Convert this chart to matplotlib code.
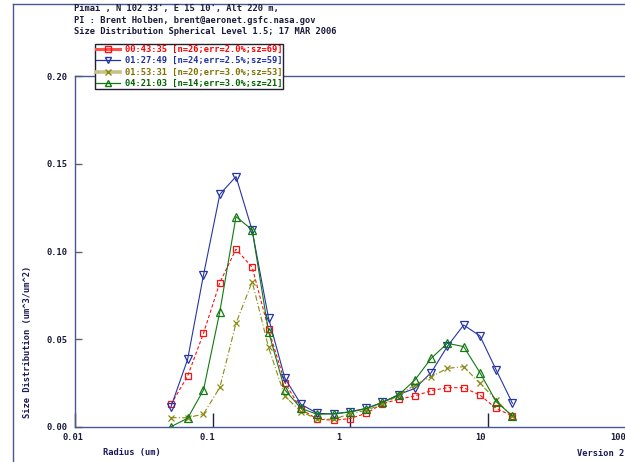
import matplotlib
matplotlib.use("Agg")
import matplotlib.pyplot as plt
from matplotlib.lines import Line2D
from matplotlib.transforms import ScaledTranslation

# ---------------- data ----------------
radius = [0.050, 0.066, 0.086, 0.113, 0.148, 0.194, 0.255, 0.335, 0.439, 0.576, 0.756,
          0.992, 1.302, 1.708, 2.241, 2.940, 3.857, 5.061, 6.641, 8.713, 11.432, 15.000]

red_vals = [0.0129, 0.0291, 0.0534, 0.0823, 0.1013, 0.0910, 0.0557, 0.0253, 0.0101, 0.0045, 0.0038,
            0.0048, 0.0078, 0.0132, 0.0158, 0.0177, 0.0207, 0.0224, 0.0224, 0.0182, 0.0106, 0.0063]
blue_vals = [0.0116, 0.0386, 0.0866, 0.1326, 0.1427, 0.1120, 0.0620, 0.0278, 0.0129, 0.0078, 0.0074,
             0.0087, 0.0106, 0.0140, 0.0185, 0.0220, 0.0310, 0.0460, 0.0581, 0.0519, 0.0325, 0.0135]
olive_vals = [0.0053, 0.0053, 0.0074, 0.0226, 0.0591, 0.0828, 0.0453, 0.0175, 0.0087, 0.0045, 0.0044,
              0.0075, 0.0095, 0.0130, 0.0180, 0.0240, 0.0287, 0.0334, 0.0344, 0.0249, 0.0154, 0.0060]
green_vals = [0.0002, 0.0050, 0.0211, 0.0657, 0.1199, 0.1123, 0.0543, 0.0211, 0.0106, 0.0072, 0.0076,
              0.0085, 0.0105, 0.0140, 0.0182, 0.0268, 0.0391, 0.0477, 0.0458, 0.0310, 0.0144, 0.0063]

labels = ["00:43:35 [n=26;err=2.0%;sz=69]",
          "01:27:49 [n=24;err=2.5%;sz=59]",
          "01:53:31 [n=20;err=3.0%;sz=53]",
          "04:21:03 [n=14;err=3.0%;sz=21]"]

title_lines = ["Pimai , N 102 33', E 15 10', Alt 220 m,",
               "PI : Brent Holben, brent@aeronet.gsfc.nasa.gov",
               "Size Distribution Spherical Level 1.5; 17 MAR 2006"]

xticks = [0.01, 0.1, 1, 10, 100]
xticklabels = ["0.01", "0.1", "1", "10", "100"]
yticks = [0.00, 0.05, 0.10, 0.15, 0.20]

# ---------------- style ----------------
FONT = dict(family="DejaVu Sans Mono", weight="bold")
FS = 6.3
AXC = "#4a5890"

W, H = 625, 462
fig = plt.figure(figsize=(W / 100, H / 100), dpi=100)
ax = fig.add_axes([74.7 / W, 35 / H, (626 - 74.7) / W, 351 / H])
ax.set_xscale("log")
ax.set_xlim(0.01, 100)
ax.set_ylim(0, 0.2)

series = [
    (red_vals, "#ff1010", (0, (3, 2)), "s", 5.0),
    (blue_vals, "#2535a5", "-", "v", 5.2),
    (olive_vals, "#8a8a10", (0, (5, 2, 1, 2)), "x", 4.5),
    (green_vals, "#107a10", "-", "^", 5.2),
]
for vals, c, ls, m, ms in series:
    ax.plot(radius, vals, color=c, ls=ls, lw=0.8, marker=m, ms=ms,
            mfc="none", mec=c, mew=0.9)

for s in ax.spines.values():
    s.set_color(AXC)
    s.set_linewidth(1.0)

ax.set_xticks(xticks)
ax.set_xticklabels(xticklabels)
ax.xaxis.set_minor_locator(matplotlib.ticker.NullLocator())
ax.set_yticks(yticks)
ax.set_yticklabels(["%.2f" % v for v in yticks])
ax.tick_params(axis="x", direction="in", length=10, width=1, color="#202040",
               pad=4, labelsize=FS, labelcolor="#1a1a3a")
ax.tick_params(axis="y", direction="in", length=5, width=1, color="#606080",
               pad=5, labelsize=FS, labelcolor="#1a1a3a")
for lab in ax.get_xticklabels() + ax.get_yticklabels():
    lab.set_fontfamily(FONT["family"])
    lab.set_fontweight("bold")
offs = [-2, -5, -11, -8, -8]
for lab, o in zip(ax.get_xticklabels(), offs):
    lab.set_transform(lab.get_transform() + ScaledTranslation(o / 100, 0, fig.dpi_scale_trans))

# legend
handles = [
    Line2D([], [], color="#ff5050", lw=2.2, marker="s", ms=5, mfc="none", mec="#ff1010"),
    Line2D([], [], color="#2535a5", lw=0.9, marker="v", ms=5, mfc="none", mec="#2535a5"),
    Line2D([], [], color="#c8c088", lw=2.6, marker="x", ms=4.5, mfc="none", mec="#8a8a10"),
    Line2D([], [], color="#107a10", lw=0.9, marker="^", ms=5, mfc="none", mec="#107a10"),
]
leg = fig.legend(handles, labels, loc="upper left", bbox_to_anchor=(95 / W, 1 - 44 / H),
                 borderaxespad=0, borderpad=0.1, handlelength=2.7, handletextpad=0.6,
                 labelspacing=0.28, frameon=True, fancybox=False,
                 prop=dict(family=FONT["family"], weight="bold", size=FS),
                 labelcolor=["#ff0000", "#2030a0", "#807000", "#006400"])
leg.get_frame().set_edgecolor("#202030")
leg.get_frame().set_linewidth(1.0)
leg.get_frame().set_alpha(1)

# header text
for i, t in enumerate(title_lines):
    fig.text(74 / W, 1 - (9 + 11.5 * i) / H, t, ha="left", va="center",
             fontsize=FS, color="#1a1a3a", **FONT)

fig.text(28 / W, 1 - 342 / H, "Size Distribution (um^3/um^2)", rotation=90,
         ha="center", va="center", fontsize=FS, color="#1a1a5a", **FONT)
fig.text(103 / W, 1 - 453 / H, "Radius (um)", ha="left", va="center",
         fontsize=FS, color="#1a1a5a", **FONT)
fig.text(577 / W, 1 - 453 / H, "Version 2", ha="left", va="center",
         fontsize=FS, color="#1a1a5a", **FONT)

# outer frame
fig.add_artist(Line2D([13 / W, 13 / W], [0, 1 - 4 / H], transform=fig.transFigure,
                      color=AXC, lw=1.0))
fig.add_artist(Line2D([13 / W, 1], [1 - 4 / H, 1 - 4 / H], transform=fig.transFigure,
                      color=AXC, lw=1.0))

fig.savefig("out.png", dpi=100)
